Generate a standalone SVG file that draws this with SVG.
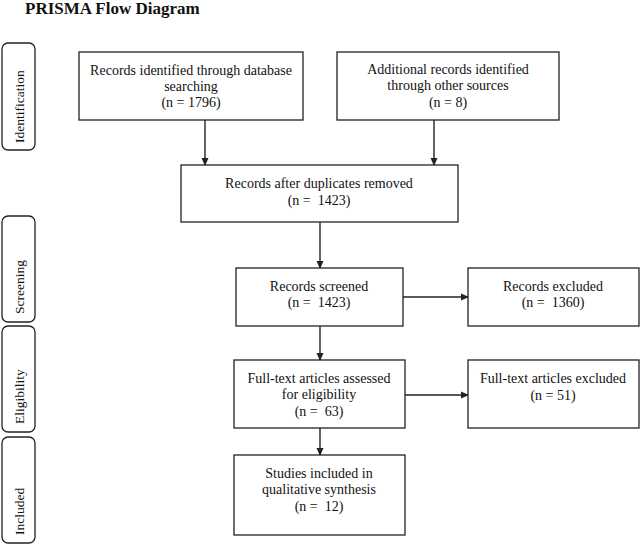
<svg xmlns="http://www.w3.org/2000/svg" width="640" height="544" viewBox="0 0 640 544">
<style>
.box{fill:#fff;stroke:#222;stroke-width:1.3}
.side{fill:#fff;stroke:#222;stroke-width:1.3}
.t{font-family:"Liberation Serif","Times New Roman",serif;font-size:14px;fill:#111;text-anchor:middle}
.s{font-family:"Liberation Serif","Times New Roman",serif;font-size:13.5px;fill:#111;text-anchor:start}
.ln{stroke:#222;stroke-width:1.4;fill:none}
</style>
<defs>
<marker id="ah" markerWidth="8" markerHeight="8" refX="7" refY="4" orient="auto" markerUnits="userSpaceOnUse">
<path d="M0,0.5 L8,4 L0,7.5 Z" fill="#222"/>
</marker>
</defs>
<rect width="640" height="544" fill="#fff"/>
<text x="25" y="14" style="font-family:'Liberation Serif','Times New Roman',serif;font-size:17px;font-weight:bold;fill:#111">PRISMA Flow Diagram</text>

<g id="stage-identification">
<rect class="side" x="2" y="43" width="33" height="107" rx="6"/>
<text class="s" transform="translate(24,143) rotate(-90)">Identification</text>
</g>
<g id="stage-screening">
<rect class="side" x="2" y="216" width="33" height="106" rx="6"/>
<text class="s" transform="translate(24,314) rotate(-90)">Screening</text>
</g>
<g id="stage-eligibility">
<rect class="side" x="2" y="326" width="33" height="106" rx="6"/>
<text class="s" transform="translate(24,424) rotate(-90)">Eligibility</text>
</g>
<g id="stage-included">
<rect class="side" x="2" y="437" width="33" height="106" rx="6"/>
<text class="s" transform="translate(24,535) rotate(-90)">Included</text>
</g>

<g id="connectors">
<line class="ln" x1="205" y1="120" x2="205" y2="165" marker-end="url(#ah)"/>
<line class="ln" x1="434" y1="120" x2="434" y2="165" marker-end="url(#ah)"/>
<line class="ln" x1="320" y1="222" x2="320" y2="268" marker-end="url(#ah)"/>
<line class="ln" x1="403" y1="297" x2="468" y2="297" marker-end="url(#ah)"/>
<line class="ln" x1="320" y1="326" x2="320" y2="360" marker-end="url(#ah)"/>
<line class="ln" x1="405" y1="395" x2="468" y2="395" marker-end="url(#ah)"/>
<line class="ln" x1="320" y1="428" x2="320" y2="455" marker-end="url(#ah)"/>
</g>

<g id="db-search">
<rect class="box" x="79" y="52" width="224" height="68"/>
<text class="t" x="191" y="75">Records identified through database</text>
<text class="t" x="191" y="91">searching</text>
<text class="t" x="191" y="107">(n = 1796)</text>
</g>
<g id="other-sources">
<rect class="box" x="337" y="52" width="222" height="68"/>
<text class="t" x="448" y="74">Additional records identified</text>
<text class="t" x="448" y="90">through other sources</text>
<text class="t" x="448" y="107">(n = 8)</text>
</g>
<g id="duplicates-removed">
<rect class="box" x="181" y="165" width="277" height="57"/>
<text class="t" x="319" y="188">Records after duplicates removed</text>
<text class="t" x="319" y="205" xml:space="preserve">(n =  1423)</text>
</g>
<g id="screened">
<rect class="box" x="236" y="268" width="167" height="58"/>
<text class="t" x="319" y="291">Records screened</text>
<text class="t" x="319" y="307" xml:space="preserve">(n =  1423)</text>
</g>
<g id="excluded">
<rect class="box" x="468" y="268" width="171" height="58"/>
<text class="t" x="553" y="291">Records excluded</text>
<text class="t" x="553" y="307" xml:space="preserve">(n =  1360)</text>
</g>
<g id="fulltext-assessed">
<rect class="box" x="234" y="360" width="171" height="68"/>
<text class="t" x="319" y="383">Full-text articles assessed</text>
<text class="t" x="319" y="399">for eligibility</text>
<text class="t" x="319" y="416" xml:space="preserve">(n =  63)</text>
</g>
<g id="fulltext-excluded">
<rect class="box" x="468" y="360" width="171" height="68"/>
<text class="t" x="553" y="383">Full-text articles excluded</text>
<text class="t" x="553" y="400">(n = 51)</text>
</g>
<g id="included">
<rect class="box" x="234" y="455" width="171" height="80"/>
<text class="t" x="319" y="478">Studies included in</text>
<text class="t" x="319" y="494">qualitative synthesis</text>
<text class="t" x="319" y="511" xml:space="preserve">(n =  12)</text>
</g>
</svg>
